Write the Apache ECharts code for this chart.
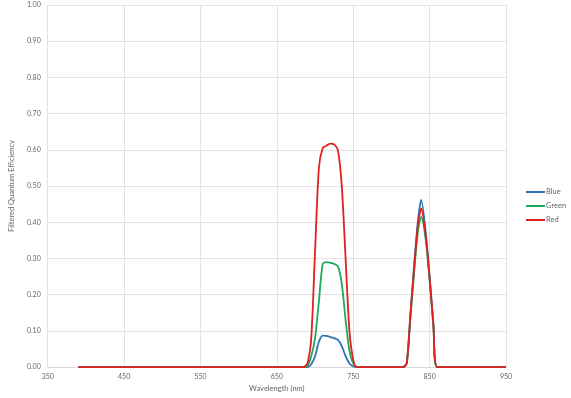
<!DOCTYPE html>
<html><head><meta charset="utf-8">
<script src="https://cdn.jsdelivr.net/npm/echarts@6/dist/echarts.min.js"></script>
<style>html,body{margin:0;padding:0;background:#fff}#c{width:571px;height:398px}</style>
</head><body><div id="c"></div>
<script>
const wavelengths = [390, 680, 685, 690, 695, 700, 705, 710, 715, 720, 725, 730, 735, 740, 745, 750, 755, 815, 820, 825, 830, 835, 839, 845, 850, 855, 860, 950];
const blue  = [0, 0, 0, 0, 0.008, 0.03, 0.07, 0.087, 0.086, 0.083, 0.080, 0.075, 0.058, 0.030, 0.010, 0.002, 0, 0, 0.01, 0.15, 0.29, 0.41, 0.462, 0.37, 0.25, 0.12, 0, 0];
const green = [0, 0, 0, 0.003, 0.03, 0.08, 0.18, 0.285, 0.290, 0.288, 0.285, 0.278, 0.23, 0.13, 0.045, 0.01, 0, 0, 0.01, 0.14, 0.27, 0.38, 0.415, 0.35, 0.24, 0.11, 0, 0];
const red   = [0, 0, 0, 0.01, 0.08, 0.32, 0.55, 0.605, 0.612, 0.617, 0.615, 0.598, 0.50, 0.30, 0.10, 0.02, 0, 0, 0.01, 0.15, 0.28, 0.40, 0.438, 0.36, 0.245, 0.115, 0, 0];
const seriesNames = ['Blue', 'Green', 'Red'];
const seriesColors = ['#2E75B6', '#1FA95A', '#E01F1F'];
const xTicks = [350, 450, 550, 650, 750, 850, 950];
const yTicks = [0, 0.1, 0.2, 0.3, 0.4, 0.5, 0.6, 0.7, 0.8, 0.9, 1.0];

const chart = echarts.init(document.getElementById('c'), null, {renderer: 'canvas'});
const font = 'Lato, "Open Sans", sans-serif';
const vals = [blue, green, red];
chart.setOption({
  animation: false,
  grid: {left: 41, right: 65, top: 5, bottom: 25, containLabel: false},
  legend: {
    orient: 'vertical', left: 521, top: 183, itemWidth: 19, itemHeight: 2, itemGap: 6,
    icon: 'rect',
    textStyle: {fontFamily: font, fontSize: 7.5, color: '#666', padding: [0,0,0,-4]},
    data: seriesNames
  },
  xAxis: {
    type: 'value', min: xTicks[0], max: xTicks[xTicks.length-1], interval: 100,
    name: 'Wavelength (nm)', nameLocation: 'middle', nameGap: 13,
    nameTextStyle: {fontFamily: font, fontSize: 7.5, color: '#666'},
    axisLine: {show: true, lineStyle: {color: '#d9d9d9', width: 1}},
    axisTick: {show: false},
    axisLabel: {fontFamily: font, fontSize: 7, color: '#666', margin: 6},
    splitLine: {show: true, lineStyle: {color: '#e3e3e3', width: 1}}
  },
  yAxis: {
    type: 'value', min: yTicks[0], max: yTicks[yTicks.length-1], interval: 0.1,
    name: 'Filtered Quantum Efficiency', nameLocation: 'middle', nameGap: 31,
    nameTextStyle: {fontFamily: font, fontSize: 7.5, color: '#666'},
    axisLine: {show: false}, axisTick: {show: false},
    axisLabel: {fontFamily: font, fontSize: 7, color: '#666', margin: 7,
      formatter: v => v.toFixed(2)},
    splitLine: {show: true, lineStyle: {color: '#e3e3e3', width: 1}}
  },
  series: seriesNames.map((n, i) => ({
    name: n, type: 'line', smooth: 0.25, showSymbol: false, symbol: 'none',
    color: seriesColors[i],
    lineStyle: {width: 1.8, color: seriesColors[i]},
    data: wavelengths.map((w, k) => [w, vals[i][k]])
  }))
});
</script></body></html>
